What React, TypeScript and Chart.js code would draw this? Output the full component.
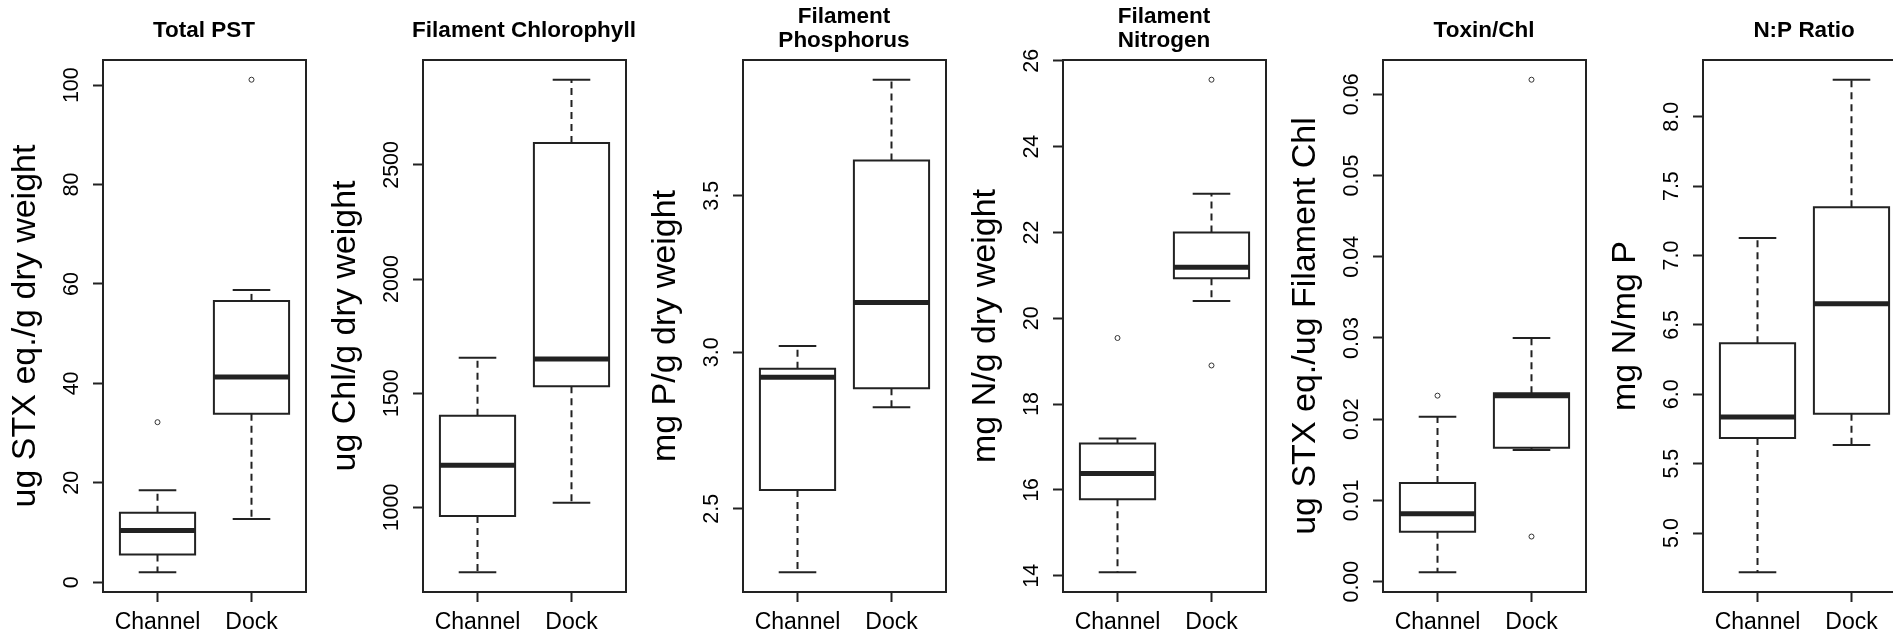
import React, { useEffect, useRef } from "react";
import { Chart, registerables } from "chart.js";

Chart.register(...registerables);

const FONT = "'Liberation Sans', Arial, Helvetica, sans-serif";
const LINE = "#222222";
const TEXT = "#000000";

const groupLabels = ["Channel", "Dock"];

// Box statistics, in the order [lower whisker, Q1, median, Q3, upper whisker]
const pstChannel = [2.0, 5.6, 10.4, 14.0, 18.5];
const pstDock = [12.7, 33.9, 41.3, 56.6, 58.8];
const pstChannelOutliers = [32.2];
const pstDockOutliers = [101.1];
const pstTicks = [0, 20, 40, 60, 80, 100];

const chlChannel = [716, 963, 1185, 1402, 1656];
const chlDock = [1021, 1531, 1650, 2596, 2873];
const chlChannelOutliers: number[] = [];
const chlDockOutliers: number[] = [];
const chlTicks = [1000, 1500, 2000, 2500];

const phosChannel = [2.297, 2.56, 2.92, 2.947, 3.02];
const phosDock = [2.824, 2.885, 3.159, 3.613, 3.871];
const phosChannelOutliers: number[] = [];
const phosDockOutliers: number[] = [];
const phosTicks = [2.5, 3.0, 3.5];

const nitChannel = [14.08, 15.78, 16.38, 17.08, 17.2];
const nitDock = [20.4, 20.93, 21.19, 22.0, 22.9];
const nitChannelOutliers = [19.54];
const nitDockOutliers = [18.9, 25.56];
const nitTicks = [14, 16, 18, 20, 22, 24, 26];

const tcChannel = [0.00115, 0.00614, 0.00835, 0.01214, 0.0203];
const tcDock = [0.0162, 0.0165, 0.0229, 0.0232, 0.03];
const tcChannelOutliers = [0.0229];
const tcDockOutliers = [0.00555, 0.0618];
const tcTicks = [0.0, 0.01, 0.02, 0.03, 0.04, 0.05, 0.06];

const npChannel = [4.717, 5.684, 5.837, 6.368, 7.126];
const npDock = [5.635, 5.86, 6.653, 7.348, 8.267];
const npChannelOutliers: number[] = [];
const npDockOutliers: number[] = [];
const npTicks = [5.0, 5.5, 6.0, 6.5, 7.0, 7.5, 8.0];

const titles: (string | string[])[] = [
  "Total PST",
  "Filament Chlorophyll",
  ["Filament", "Phosphorus"],
  ["Filament", "Nitrogen"],
  "Toxin/Chl",
  "N:P Ratio",
];
const yLabels = [
  "ug STX eq./g dry weight",
  "ug Chl/g dry weight",
  "mg P/g dry weight",
  "mg N/g dry weight",
  "ug STX eq./ug Filament Chl",
  "mg N/mg P",
];
const tickDecimals = [0, 0, 1, 0, 2, 1];

const panels = [
  { stats: [pstChannel, pstDock], outliers: [pstChannelOutliers, pstDockOutliers], ticks: pstTicks },
  { stats: [chlChannel, chlDock], outliers: [chlChannelOutliers, chlDockOutliers], ticks: chlTicks },
  { stats: [phosChannel, phosDock], outliers: [phosChannelOutliers, phosDockOutliers], ticks: phosTicks },
  { stats: [nitChannel, nitDock], outliers: [nitChannelOutliers, nitDockOutliers], ticks: nitTicks },
  { stats: [tcChannel, tcDock], outliers: [tcChannelOutliers, tcDockOutliers], ticks: tcTicks },
  { stats: [npChannel, npDock], outliers: [npChannelOutliers, npDockOutliers], ticks: npTicks },
];

const PANEL_STEP = 320;
const CANVAS_W = 408;
const CANVAS_H = 636;
const Y_AXIS_W = 103;
const RIGHT_W = 102;
const X_AXIS_H = 44;
const TICK_LEN = 10;
const Y_TICK_CENTER = 72;
const Y_TICK_SIZE = 21.5;

function lineSet(points: { x: number; y: number }[], extra: any = {}) {
  return {
    type: "scatter" as const,
    data: points,
    showLine: true,
    pointRadius: 0,
    pointHoverRadius: 0,
    borderColor: LINE,
    borderWidth: 2,
    fill: false,
    yAxisID: "y",
    xAxisID: "x",
    ...extra,
  };
}

function boxDatasets(stats: number[], outliers: number[], c: number) {
  const [lo, q1, med, q3, hi] = stats;
  const hw = 0.4;
  const cw = 0.2;
  return [
    lineSet([{ x: c, y: q3 }, { x: c, y: hi }], { borderDash: [7, 5] }),
    lineSet([{ x: c, y: q1 }, { x: c, y: lo }], { borderDash: [7, 5] }),
    lineSet([{ x: c - cw, y: hi }, { x: c + cw, y: hi }]),
    lineSet([{ x: c - cw, y: lo }, { x: c + cw, y: lo }]),
    lineSet(
      [
        { x: c - hw, y: q1 },
        { x: c + hw, y: q1 },
        { x: c + hw, y: q3 },
        { x: c - hw, y: q3 },
        { x: c - hw, y: q1 },
      ],
      { borderJoinStyle: "miter", borderCapStyle: "square" }
    ),
    lineSet([{ x: c - hw, y: med }, { x: c + hw, y: med }], { borderWidth: 5 }),
    {
      type: "scatter" as const,
      data: outliers.map((v) => ({ x: c, y: v })),
      showLine: false,
      pointRadius: 2.5,
      pointHoverRadius: 2.5,
      pointBorderWidth: 1,
      pointBorderColor: "#333333",
      pointBackgroundColor: "rgba(0,0,0,0)",
      borderColor: "#333333",
      yAxisID: "y",
      xAxisID: "x",
    },
  ];
}

const framePlugin = {
  id: "frame",
  afterDraw(chart: any) {
    const { ctx, chartArea } = chart;
    ctx.save();
    ctx.strokeStyle = LINE;
    ctx.lineWidth = 2;
    ctx.strokeRect(chartArea.left, chartArea.top, chartArea.right - chartArea.left, chartArea.bottom - chartArea.top);
    ctx.restore();
  },
};

function makeConfig(i: number) {
  const p = panels[i];
  const all = [...p.stats[0], ...p.stats[1], ...p.outliers[0], ...p.outliers[1]];
  const dmin = Math.min(...all);
  const dmax = Math.max(...all);
  const ext = (dmax - dmin) * 0.04;
  const dec = tickDecimals[i];
  const labels = p.ticks.map((v) => v.toFixed(dec));

  const mctx = document.createElement("canvas").getContext("2d")!;
  mctx.font = `${Y_TICK_SIZE}px ${FONT}`;
  const widest = Math.max(...labels.map((l) => mctx.measureText(l).width));
  const tickPad = Y_AXIS_W - TICK_LEN - Y_TICK_CENTER - widest / 2;

  const title = titles[i];
  const multi = Array.isArray(title);
  const titleFont = multi
    ? { family: FONT, size: 22.5, weight: "bold" as const, lineHeight: 24 / 22.5 }
    : { family: FONT, size: 22.5, weight: "bold" as const, lineHeight: 1.2 };
  const titlePad = multi ? { top: 4.5, bottom: 7.5 } : { top: 17.5, bottom: 15.5 };

  const datasets = [
    ...boxDatasets(p.stats[0], p.outliers[0], 1),
    ...boxDatasets(p.stats[1], p.outliers[1], 2),
  ];

  const gridOpts = {
    display: true,
    drawOnChartArea: false,
    drawTicks: true,
    tickLength: TICK_LEN,
    tickColor: LINE,
    tickWidth: 2,
  };

  return {
    type: "scatter" as const,
    data: { datasets },
    plugins: [framePlugin],
    options: {
      animation: false as const,
      responsive: false,
      maintainAspectRatio: false,
      devicePixelRatio: 1,
      events: [],
      layout: { padding: 0 },
      plugins: {
        legend: { display: false },
        tooltip: { enabled: false },
        title: {
          display: true,
          text: title,
          color: TEXT,
          font: titleFont,
          padding: titlePad,
          fullSize: true,
        },
      },
      scales: {
        x: {
          type: "linear" as const,
          position: "bottom" as const,
          min: 0.42,
          max: 2.58,
          afterBuildTicks: (s: any) => {
            s.ticks = [{ value: 1 }, { value: 2 }];
          },
          afterFit: (s: any) => {
            s.height = X_AXIS_H;
          },
          ticks: {
            autoSkip: false,
            maxRotation: 0,
            minRotation: 0,
            padding: 6.5,
            color: TEXT,
            font: { family: FONT, size: 23 },
            callback: (v: any) => groupLabels[Math.round(Number(v)) - 1] ?? "",
          },
          grid: gridOpts,
          border: { display: false },
        },
        y: {
          type: "linear" as const,
          position: "left" as const,
          min: dmin - ext,
          max: dmax + ext,
          afterBuildTicks: (s: any) => {
            s.ticks = p.ticks.map((v) => ({ value: v }));
          },
          afterFit: (s: any) => {
            s.width = Y_AXIS_W;
          },
          ticks: {
            autoSkip: false,
            minRotation: 90,
            maxRotation: 90,
            crossAlign: "center" as const,
            padding: tickPad,
            color: TEXT,
            font: { family: FONT, size: Y_TICK_SIZE },
            callback: (v: any) => Number(v).toFixed(dec),
          },
          grid: gridOpts,
          border: { display: false },
          title: {
            display: true,
            text: yLabels[i],
            color: TEXT,
            font: { family: FONT, size: 34, lineHeight: 1.2 },
            padding: { top: 5, bottom: 0 },
          },
        },
        yR: {
          type: "linear" as const,
          position: "right" as const,
          display: true,
          afterFit: (s: any) => {
            s.width = RIGHT_W;
          },
          ticks: { display: false },
          grid: { display: false, drawTicks: false },
          border: { display: false },
        },
      },
    },
  };
}

export default function App() {
  const refs = useRef<(HTMLCanvasElement | null)[]>([]);

  useEffect(() => {
    document.body.style.margin = "0";
    document.documentElement.style.overflow = "hidden";
    const charts = panels.map((_, i) => new Chart(refs.current[i]!, makeConfig(i) as any));
    return () => charts.forEach((c) => c.destroy());
  }, []);

  return (
    <div
      style={{
        position: "relative",
        width: 1893,
        height: CANVAS_H,
        overflow: "hidden",
        background: "#ffffff",
      }}
    >
      {panels.map((_, i) => (
        <canvas
          key={i}
          ref={(el) => {
            refs.current[i] = el;
          }}
          width={CANVAS_W}
          height={CANVAS_H}
          style={{ position: "absolute", left: PANEL_STEP * i, top: 0, width: CANVAS_W, height: CANVAS_H }}
        />
      ))}
    </div>
  );
}
